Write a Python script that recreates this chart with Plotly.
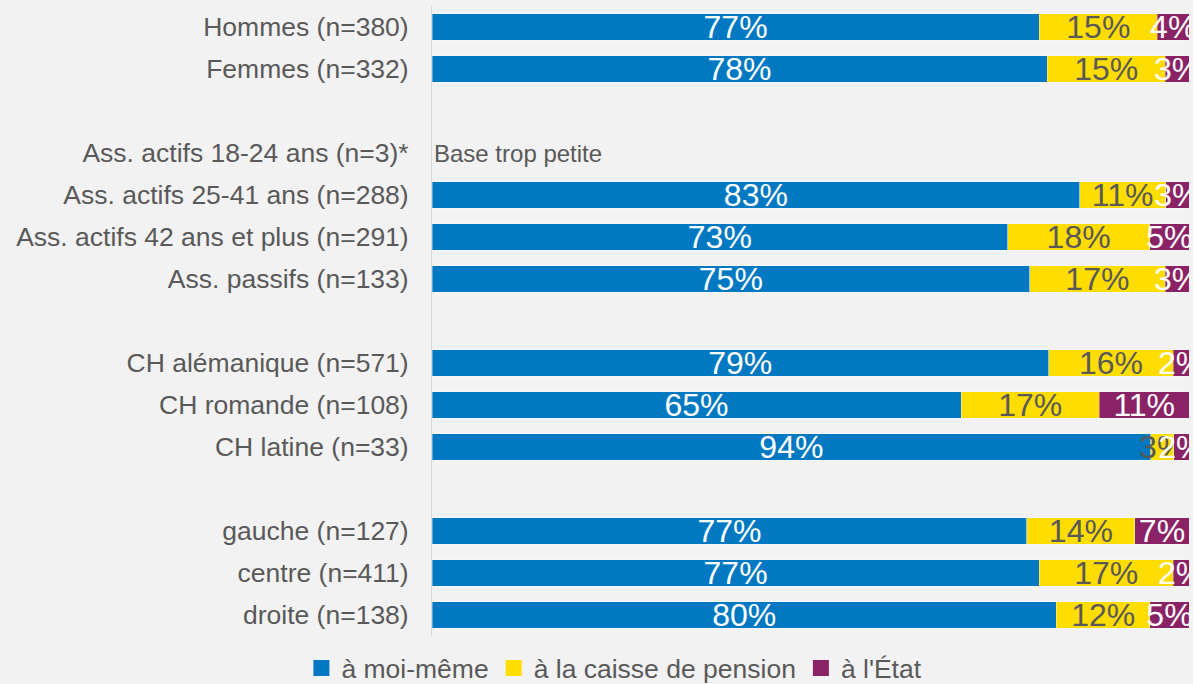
import plotly.graph_objects as go

# ---- data ----
groups = [
    "Hommes (n=380)", "Femmes (n=332)",
    "Ass. actifs 18-24 ans (n=3)*", "Ass. actifs 25-41 ans (n=288)",
    "Ass. actifs 42 ans et plus (n=291)", "Ass. passifs (n=133)",
    "CH alémanique (n=571)", "CH romande (n=108)", "CH latine (n=33)",
    "gauche (n=127)", "centre (n=411)", "droite (n=138)",
]
category_order = [
    "Hommes (n=380)", "Femmes (n=332)", " ",
    "Ass. actifs 18-24 ans (n=3)*", "Ass. actifs 25-41 ans (n=288)",
    "Ass. actifs 42 ans et plus (n=291)", "Ass. passifs (n=133)", "  ",
    "CH alémanique (n=571)", "CH romande (n=108)", "CH latine (n=33)", "   ",
    "gauche (n=127)", "centre (n=411)", "droite (n=138)",
]
moi_meme = [77, 78, None, 83, 73, 75, 79, 65, 94, 77, 77, 80]
caisse = [15, 15, None, 11, 18, 17, 16, 17, 3, 14, 17, 12]
etat = [4, 3, None, 3, 5, 3, 2, 11, 2, 7, 2, 5]
series_names = ["à moi-même", "à la caisse de pension", "à l'État"]
small_base_group = "Ass. actifs 18-24 ans (n=3)*"
small_base_note = "Base trop petite"

colors = ["#0079C2", "#FFDD00", "#8A2366"]
text_colors = ["#FFFFFF", "#595959", "#FFFFFF"]
FONT = "Liberation Sans, Arial, sans-serif"
GRAY = "#595959"

fig = go.Figure()
for name, vals, col, tcol in zip(series_names, [moi_meme, caisse, etat], colors, text_colors):
    fig.add_trace(go.Bar(
        y=groups, x=vals, name=name, orientation="h",
        marker=dict(color=col, line=dict(color="rgba(255,255,255,0.35)", width=1)),
        text=[f"{v}%" if v is not None else "" for v in vals],
        texttemplate="%{text}",
        textposition="inside", insidetextanchor="middle", textangle=0,
        textfont=dict(size=32, color=tcol, family=FONT),
        width=0.64, showlegend=False,
    ))
    # legend entry with a larger square symbol
    fig.add_trace(go.Scatter(
        x=[None], y=[None], mode="markers", name=name,
        marker=dict(symbol="square", size=16, color=col),
        showlegend=True, hoverinfo="skip",
    ))

fig.add_annotation(
    x=0, y=small_base_group, xref="x", yref="y",
    text=small_base_note, showarrow=False, xanchor="left", yanchor="middle",
    font=dict(size=24, color=GRAY, family=FONT),
)

fig.update_layout(
    barmode="stack", barnorm="percent",
    width=1193, height=684,
    paper_bgcolor="#F2F2F2", plot_bgcolor="#F2F2F2",
    margin=dict(l=432, r=4, t=6, b=48),
    font=dict(family=FONT, color=GRAY, size=26.5),
    uniformtext=dict(minsize=32, mode="show"),
    showlegend=True,
    legend=dict(
        orientation="h", xref="container", yref="container",
        x=0.515, xanchor="center", y=0.023, yanchor="middle",
        font=dict(size=26.5, color=GRAY, family=FONT),
        bgcolor="rgba(0,0,0,0)", traceorder="normal",
        itemwidth=30, itemsizing="trace",
    ),
    xaxis=dict(range=[0, 100], visible=False, fixedrange=True),
    yaxis=dict(
        type="category", categoryorder="array", categoryarray=category_order,
        autorange="reversed", showgrid=False, zeroline=False,
        showline=True, linecolor="#D9D9D9", linewidth=1,
        ticks="", ticklabelstandoff=17,
        tickfont=dict(size=26.5, color=GRAY, family=FONT),
    ),
)

fig.write_html(
    "out.html",
    config={"displayModeBar": False},
    post_script="document.body.style.margin='0';document.body.style.background='#F2F2F2';",
)
